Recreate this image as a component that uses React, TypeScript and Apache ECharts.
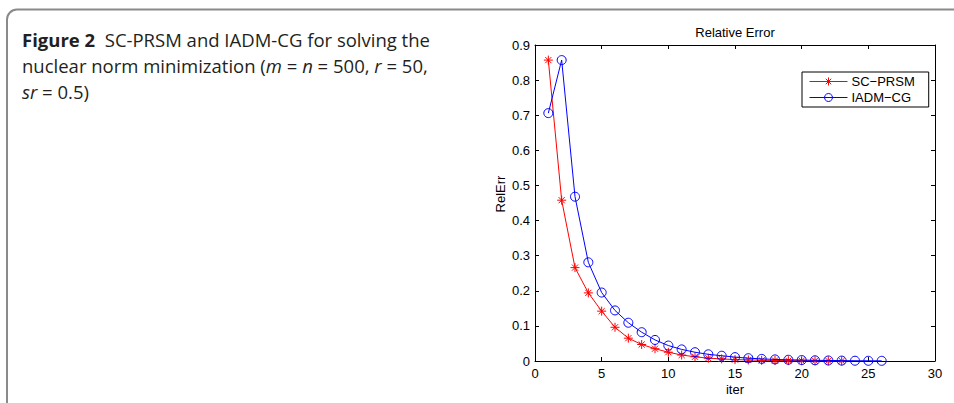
import React, { useEffect, useRef } from "react";
import * as echarts from "echarts";

const scIter = [1, 2, 3, 4, 5, 6, 7, 8, 9, 10, 11, 12, 13, 14, 15, 16, 17, 18, 19, 20, 21, 22, 23];
const scErr = [0.857, 0.458, 0.266, 0.194, 0.142, 0.096, 0.065, 0.047, 0.035, 0.025, 0.017, 0.012, 0.008, 0.006, 0.004, 0.003, 0.002, 0.0015, 0.001, 0.0008, 0.0006, 0.0005, 0.0004];
const iaIter = [1, 2, 3, 4, 5, 6, 7, 8, 9, 10, 11, 12, 13, 14, 15, 16, 17, 18, 19, 20, 21, 22, 23, 24, 25, 26];
const iaErr = [0.706, 0.857, 0.468, 0.281, 0.195, 0.144, 0.109, 0.082, 0.060, 0.044, 0.033, 0.025, 0.019, 0.015, 0.011, 0.008, 0.006, 0.0045, 0.0035, 0.0027, 0.002, 0.0015, 0.0011, 0.0008, 0.0006, 0.0005];
const seriesNames = ["SC\u2212PRSM", "IADM\u2212CG"];
const chartTitle = "Relative Error";
const xName = "iter";
const yName = "RelErr";

const FONT = "'Liberation Sans', Arial, sans-serif";
const STAR = "path://M5,0L5,10M0,5L10,5M1.6,1.6L8.4,8.4M1.6,8.4L8.4,1.6";

export default function App() {
  const ref = useRef<HTMLDivElement>(null);
  useEffect(() => {
    if (!ref.current) return;
    const chart = echarts.init(ref.current, null, { renderer: "svg" });
    const axisCommon = {
      axisLine: { show: true, onZero: false, lineStyle: { color: "#000", width: 1 } },
      axisTick: { show: true, inside: true, length: 4, lineStyle: { color: "#000", width: 1 } },
      splitLine: { show: false },
    };
    const yFmt = (v: number) => (v === 0 ? "0" : v.toFixed(1));
    chart.setOption({
      animation: false,
      backgroundColor: "#fff",
      grid: { left: 535, right: 19, top: 45, bottom: 42, show: false },
      xAxis: [
        {
          type: "value", min: 0, max: 30, interval: 5, position: "bottom",
          ...axisCommon,
          axisLabel: { color: "#000", fontSize: 13, fontFamily: FONT, margin: 6 },
        },
        {
          type: "value", min: 0, max: 30, interval: 5, position: "top",
          ...axisCommon,
          axisLabel: { show: false },
        },
      ],
      yAxis: [
        {
          type: "value", min: 0, max: 0.9, interval: 0.1, position: "left",
          ...axisCommon,
          axisLabel: { color: "#000", fontSize: 13, fontFamily: FONT, margin: 5, formatter: yFmt },
        },
        {
          type: "value", min: 0, max: 0.9, interval: 0.1, position: "right",
          ...axisCommon,
          axisLabel: { show: false },
        },
      ],
      legend: {
        orient: "vertical",
        left: 802,
        top: 72,
        padding: [3, 14, 3, 7],
        itemGap: 3,
        itemWidth: 38,
        itemHeight: 10,
        borderColor: "#000",
        borderWidth: 1,
        backgroundColor: "#fff",
        borderRadius: 0,
        itemStyle: { borderWidth: 1 },
        lineStyle: { width: 1 },
        textStyle: { color: "#000", fontSize: 13, fontFamily: FONT, padding: [0, 0, 0, -1] },
        data: seriesNames,
      },
      series: [
        {
          name: seriesNames[0],
          type: "line",
          xAxisIndex: 0,
          yAxisIndex: 0,
          data: scIter.map((x, i) => [x, scErr[i]]),
          symbol: STAR,
          symbolSize: 9,
          lineStyle: { color: "#ff0000", width: 1 },
          itemStyle: { color: "#ff0000", borderColor: "#ff0000", borderWidth: 1 },
          z: 3,
        },
        {
          name: seriesNames[1],
          type: "line",
          xAxisIndex: 0,
          yAxisIndex: 0,
          data: iaIter.map((x, i) => [x, iaErr[i]]),
          symbol: "circle",
          symbolSize: 9,
          lineStyle: { color: "#0000ff", width: 1 },
          itemStyle: { color: "rgba(255,255,255,0)", borderColor: "#0000ff", borderWidth: 1 },
          z: 4,
        },
      ],
      graphic: [
        {
          type: "rect",
          shape: { x: 7, y: 9.5, width: 1200, height: 800, r: [10, 0, 0, 0] },
          style: { fill: "none", stroke: "#8a8a8a", lineWidth: 2 },
          silent: true,
        },
        {
          type: "text",
          x: 735, y: 32,
          style: { text: chartTitle, fill: "#000", font: `13px ${FONT}`, textAlign: "center", textVerticalAlign: "middle" },
        },
        {
          type: "text",
          x: 735, y: 389,
          style: { text: xName, fill: "#000", font: `13px ${FONT}`, textAlign: "center", textVerticalAlign: "middle" },
        },
        {
          type: "text",
          x: 500, y: 194,
          rotation: Math.PI / 2,
          style: { text: yName, fill: "#000", font: `13px ${FONT}`, textAlign: "center", textVerticalAlign: "middle" },
        },
      ],
    });
    return () => chart.dispose();
  }, []);

  const capStyle: React.CSSProperties = {
    position: "absolute",
    left: 22,
    top: 27,
    width: 440,
    fontFamily: "'Open Sans', 'Noto Sans', sans-serif",
    fontSize: 18.5,
    lineHeight: "26px",
    color: "#231f20",
    margin: 0,
  };

  return (
    <div style={{ position: "fixed", left: 0, top: 0, width: 954, height: 403, background: "#fff" }}>
      <div ref={ref} style={{ position: "absolute", left: 0, top: 0, width: 954, height: 403 }} />
      <div style={capStyle}>
        <b>Figure 2</b>&nbsp;&nbsp;SC-PRSM and IADM-CG for solving the
        <br />
        nuclear norm minimization (<i>m</i> = <i>n</i> = 500, <i>r</i> = 50,
        <br />
        <i>sr</i> = 0.5)
      </div>
    </div>
  );
}
